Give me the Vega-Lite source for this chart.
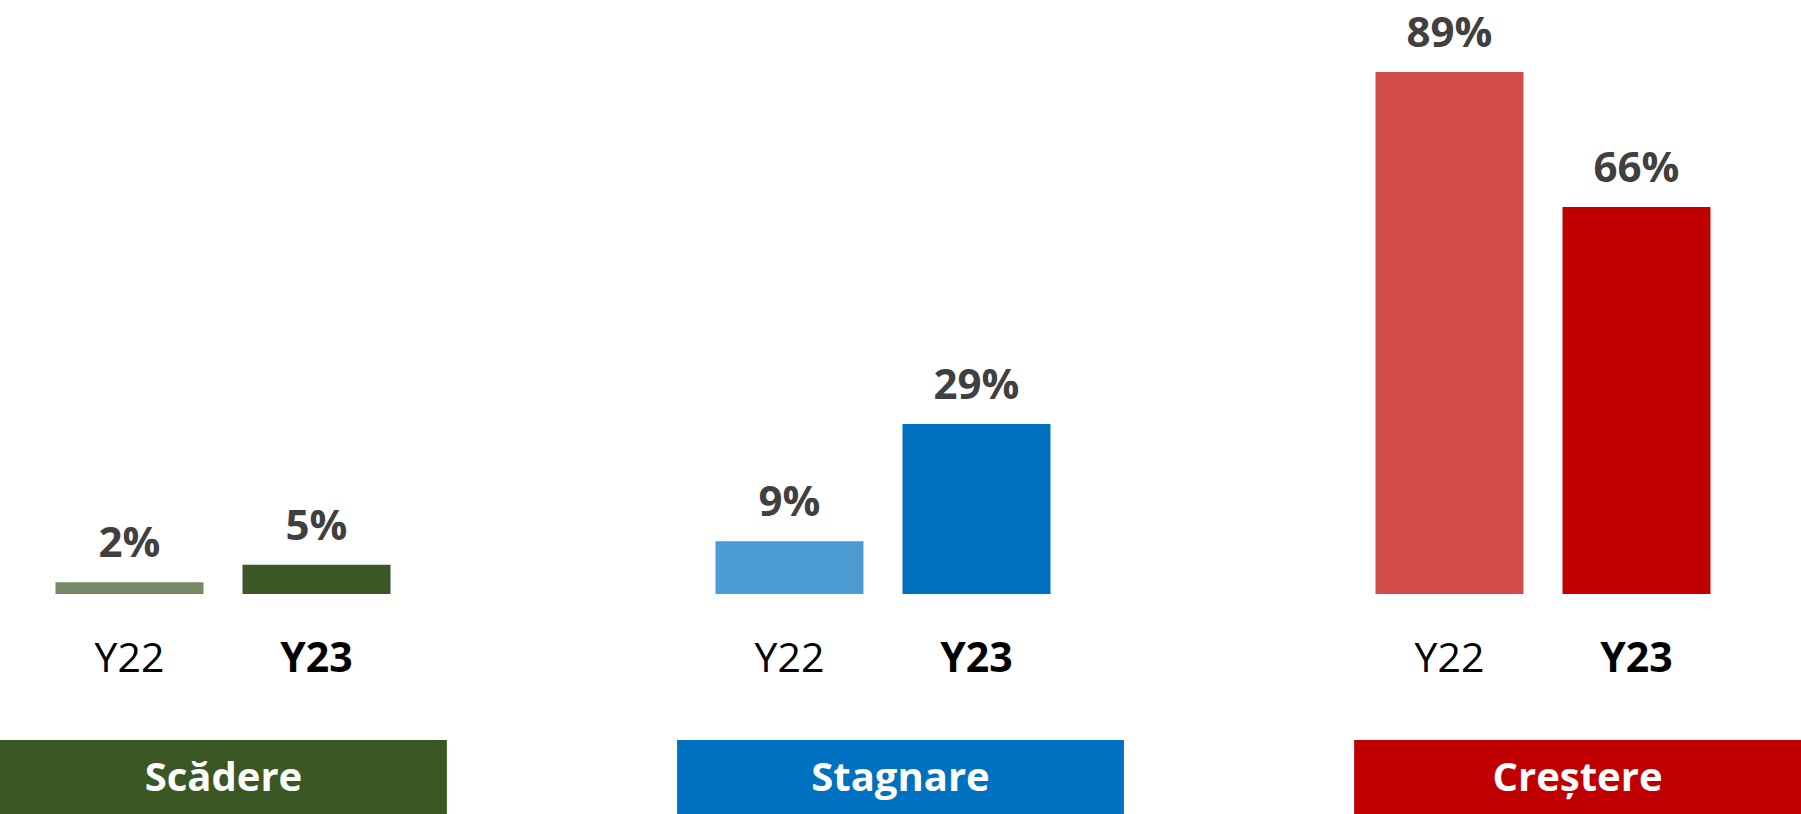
{
  "$schema": "https://vega.github.io/schema/vega-lite/v6.json",
  "autosize": "pad",
  "padding": 0,
  "background": "white",
  "config": {"view": {"stroke": null}},
  "spacing": 146,
  "bounds": "flush",
  "resolve": {"scale": {"x": "independent"}},
  "vconcat": [
    {
      "width": 1801,
      "height": 594,
      "data": {"values": [
        {"group": "Scădere", "year": "Y22", "value": 0.02},
        {"group": "Scădere", "year": "Y23", "value": 0.05},
        {"group": "Stagnare", "year": "Y22", "value": 0.09},
        {"group": "Stagnare", "year": "Y23", "value": 0.29},
        {"group": "Creștere", "year": "Y22", "value": 0.89},
        {"group": "Creștere", "year": "Y23", "value": 0.66}
      ]},
      "encoding": {
        "x": {"field": "group", "type": "nominal", "sort": ["Scădere", "Stagnare", "Creștere"], "axis": null,
              "scale": {"paddingInner": 0.4, "paddingOuter": 0.0644, "align": 0.294}},
        "xOffset": {"field": "year", "type": "nominal", "sort": ["Y22", "Y23"],
              "scale": {"paddingInner": 0.2086, "paddingOuter": 0.1631}}
      },
      "layer": [
        {
          "mark": {"type": "bar"},
          "encoding": {
            "y": {"field": "value", "type": "quantitative", "axis": null, "scale": {"domain": [0, 1.0128], "nice": false}},
            "color": {"field": "group", "type": "nominal", "legend": null,
                      "scale": {"domain": ["Scădere", "Stagnare", "Creștere"], "range": ["#3A5724", "#0070C0", "#C00000"]}},
            "opacity": {"field": "year", "type": "ordinal", "legend": null,
                        "scale": {"domain": ["Y22", "Y23"], "range": [0.7, 1]}}
          }
        },
        {
          "mark": {"type": "text", "baseline": "alphabetic", "dy": -25, "font": "Open Sans", "fontWeight": "bold", "fontSize": 42, "color": "#404040"},
          "encoding": {
            "y": {"field": "value", "type": "quantitative"},
            "text": {"field": "value", "type": "quantitative", "format": ".0%"}
          }
        },
        {
          "transform": [{"filter": "datum.year === 'Y22'"}],
          "mark": {"type": "text", "baseline": "alphabetic", "dy": 78, "font": "Open Sans", "fontWeight": "normal", "fontSize": 41, "color": "#000000"},
          "encoding": {"y": {"datum": 0, "type": "quantitative"}, "text": {"field": "year"}}
        },
        {
          "transform": [{"filter": "datum.year === 'Y23'"}],
          "mark": {"type": "text", "baseline": "alphabetic", "dy": 78, "font": "Open Sans", "fontWeight": "bold", "fontSize": 41, "color": "#000000"},
          "encoding": {"y": {"datum": 0, "type": "quantitative"}, "text": {"field": "year"}}
        }
      ]
    },
    {
      "width": 1801,
      "height": 78,
      "data": {"values": [{"group": "Scădere"}, {"group": "Stagnare"}, {"group": "Creștere"}]},
      "encoding": {
        "x": {"field": "group", "type": "nominal", "sort": ["Scădere", "Stagnare", "Creștere"], "axis": null,
              "scale": {"paddingInner": 0.34, "paddingOuter": 0}}
      },
      "layer": [
        {
          "mark": {"type": "rect"},
          "encoding": {
            "color": {"field": "group", "type": "nominal", "legend": null,
                      "scale": {"domain": ["Scădere", "Stagnare", "Creștere"], "range": ["#3A5724", "#0070C0", "#C00000"]}}
          }
        },
        {
          "mark": {"type": "text", "baseline": "middle", "font": "Open Sans", "fontWeight": "bold", "fontSize": 40, "color": "#FFFFFF"},
          "encoding": {"text": {"field": "group"}}
        }
      ]
    }
  ]
}
